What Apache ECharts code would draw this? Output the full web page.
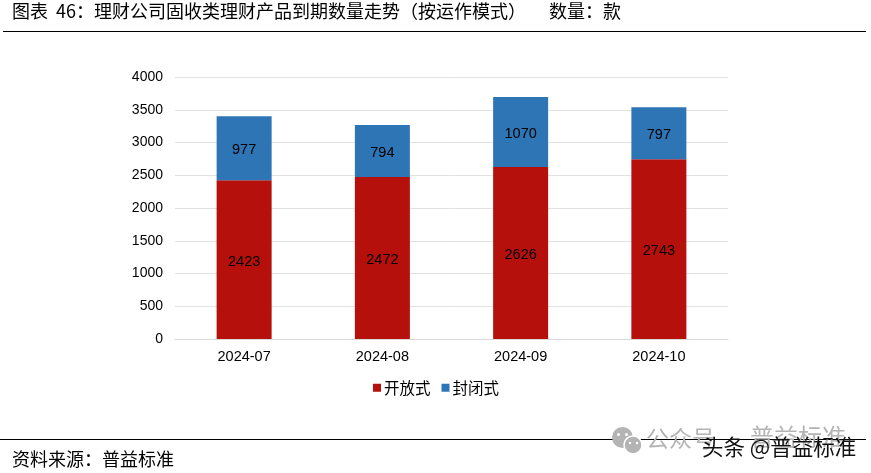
<!DOCTYPE html>
<html><head><meta charset="utf-8"><style>html,body{margin:0;padding:0;background:#fff}#c{width:871px;height:473px}</style>
<script src="https://cdn.jsdelivr.net/npm/echarts@6/dist/echarts.min.js"></script></head>
<body><div id="c"></div><script>
const categories=['2024-07','2024-08','2024-09','2024-10'];
const openValues=[2423,2472,2626,2743];
const closedValues=[977,794,1070,797];
const seriesNames=['开放式','封闭式'];
const titleText='图表  46：理财公司固收类理财产品到期数量走势（按运作模式）';
const unitText='数量：款';
const sourceText='资料来源：普益标准';
const cjk='"Noto Sans CJK SC","Liberation Sans",sans-serif';
const num='"Liberation Sans","Noto Sans CJK SC",sans-serif';
const chart=echarts.init(document.getElementById('c'),null,{renderer:'canvas'});
const lbl={show:true,position:'inside',offset:[0,2],color:'#000',fontFamily:num,fontSize:14.5};
chart.setOption({animation:false,
 grid:{left:175,right:143,top:77,bottom:134},
 legend:{top:375,left:368,itemWidth:8,itemHeight:8,itemGap:11,icon:'rect',selectedMode:false,
  textStyle:{fontFamily:cjk,fontSize:15.5,color:'#000',padding:[0,0,0,-2]},data:seriesNames},
 xAxis:{type:'category',data:categories,axisTick:{show:false},axisLine:{lineStyle:{color:'#d9d9d9'}},
  axisLabel:{color:'#000',fontFamily:num,fontSize:14.5,margin:11}},
 yAxis:{type:'value',min:0,max:4000,interval:500,axisLine:{show:false},axisTick:{show:false},
  splitLine:{lineStyle:{color:'#e2e2e2',width:1}},
  axisLabel:{color:'#000',fontFamily:num,fontSize:14,margin:12,formatter:v=>String(v)}},
 series:[
  {name:seriesNames[0],type:'bar',stack:'a',barWidth:55,data:openValues,itemStyle:{color:'#b5100b'},label:lbl},
  {name:seriesNames[1],type:'bar',stack:'a',barWidth:55,data:closedValues,itemStyle:{color:'#2e75b6'},label:lbl}],
 graphic:[
  {type:'text',left:12,top:2,style:{text:titleText,fontFamily:cjk,fontSize:18,fill:'#000'}},
  {type:'text',left:549,top:2,style:{text:unitText,fontFamily:cjk,fontSize:18,fill:'#000'}},
  {type:'rect',shape:{x:3,y:31,width:863,height:1},style:{fill:'#000'}},
  {type:'rect',shape:{x:0,y:439,width:866,height:1},style:{fill:'#000'}},
  {type:'text',left:12,top:450,style:{text:sourceText,fontFamily:cjk,fontSize:18,fill:'#000'}},
  {type:'text',left:646,top:427,style:{text:'公众号',fontFamily:cjk,fontSize:23,fill:'#b4b4b4'}},
  {type:'text',left:750,top:425,style:{text:'普益标准',fontFamily:cjk,fontSize:24,fill:'#b4b4b4'}},
  {type:'group',left:612,top:427,children:[
    {type:'circle',shape:{cx:10.5,cy:10.5,r:10.5},style:{fill:'#b4b4b4'}},
    {type:'circle',shape:{cx:21,cy:18,r:9},style:{fill:'#b4b4b4',stroke:'#fff',lineWidth:1.5}},
    {type:'circle',shape:{cx:6.5,cy:7.5,r:1.5},style:{fill:'#fff'}},
    {type:'circle',shape:{cx:14.5,cy:7.5,r:1.5},style:{fill:'#fff'}},
    {type:'circle',shape:{cx:18,cy:16,r:1.2},style:{fill:'#fff'}},
    {type:'circle',shape:{cx:25,cy:16,r:1.2},style:{fill:'#fff'}}]},
  {type:'text',left:702,top:436,style:{text:'头条 @普益标准',fontFamily:cjk,fontSize:21.5,fill:'#111'}}
 ]});
</script></body></html>
